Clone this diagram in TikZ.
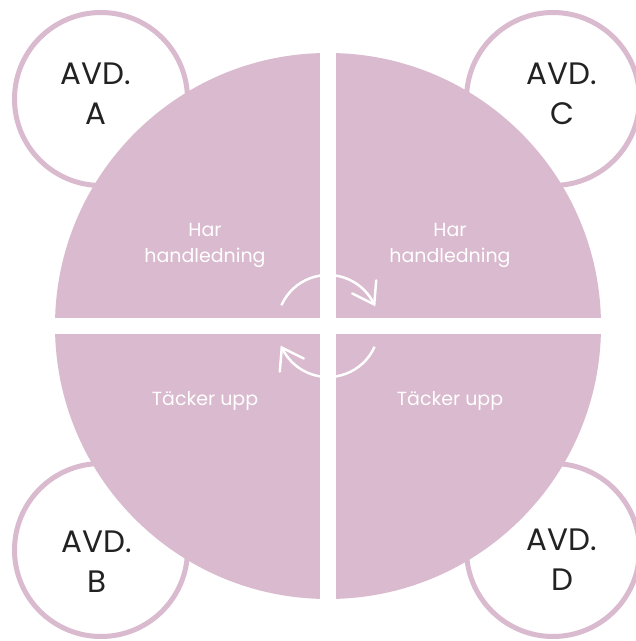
\documentclass[tikz,border=0pt]{standalone}
\usepackage{fontspec}
\setmainfont{Poppins}
\definecolor{mauve}{RGB}{217,186,206}
\definecolor{ink}{RGB}{34,34,34}
\tikzset{
  unitring/.style={circle, draw=mauve, line width=5pt, fill=white,
    minimum size=173pt, inner sep=0pt},
  unitname/.style={align=center, text=ink, font=\fontsize{31}{40}\selectfont},
  quadtext/.style={align=center, text=white, font=\fontsize{19}{26}\selectfont},
  cyclearc/.style={draw=white, line width=2.5pt},
  barb/.style={draw=white, line width=2.5pt, line join=miter, line cap=round},
}
\begin{document}
\begin{tikzpicture}[x=1pt,y=1pt]
\useasboundingbox (0,0) rectangle (636,641);
\fill[white] (0,0) rectangle (636,641);

% department circles behind the wheel
\node[unitring] (ringA) at (101,542) {};
\node[unitring] (ringC) at (553,542) {};
\node[unitring] (ringB) at (101,91) {};
\node[unitring] (ringD) at (553,91) {};

\node[unitname] (nameA) at (96,547.5) {AVD.\\A};
\node[unitname] (nameC) at (562,547.5) {AVD.\\C};
\node[unitname] (nameB) at (97,79) {AVD.\\B};
\node[unitname] (nameD) at (562,81) {AVD.\\D};

% the wheel: four quarters separated by white gaps
\coordinate (hub) at (328,315);
\begin{scope}
  \clip (hub) circle (273);
  \fill[mauve] (0,323) rectangle (320,641);
  \fill[mauve] (336,323) rectangle (636,641);
  \fill[mauve] (0,0) rectangle (320,307);
  \fill[mauve] (336,0) rectangle (636,307);
\end{scope}

\node[quadtext, anchor=base] (hA1) at (205,404.3) {Har};
\node[quadtext, anchor=base] (hA2) at (205,378.3) {handledning};
\node[quadtext, anchor=base] (hC1) at (450,404.3) {Har};
\node[quadtext, anchor=base] (hC2) at (450,378.3) {handledning};
\node[quadtext, anchor=base] (tB) at (205,235.3) {Täcker upp};
\node[quadtext, anchor=base] (tD) at (450,235.3) {Täcker upp};

% rotation arrows around the hub, with open barbs at their ends
\path (hub) ++(25:51) coordinate (tipUp);
\path (hub) ++(-155:51) coordinate (tipDown);
\draw[cyclearc] (hub) ++(156:51) arc[start angle=156, end angle=25, radius=51];
\draw[cyclearc] (hub) ++(-24:51) arc[start angle=-24, end angle=-155, radius=51];
\draw[barb] ([shift={(-22,11)}]tipUp) -- (tipUp) -- ([shift={(2,24)}]tipUp);
\draw[barb] ([shift={(22,-11)}]tipDown) -- (tipDown) -- ([shift={(-2,-24)}]tipDown);
\end{tikzpicture}
\end{document}
